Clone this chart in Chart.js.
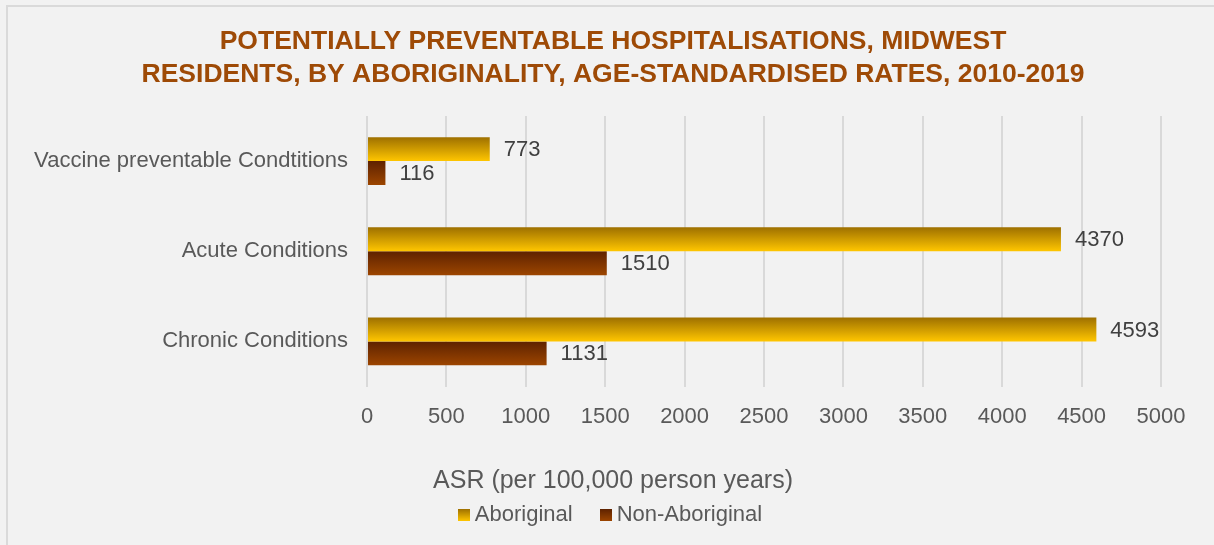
<!DOCTYPE html>
<html>
<head>
<meta charset="utf-8">
<script src="https://cdn.jsdelivr.net/npm/chart.js@4/dist/chart.umd.min.js"></script>
<style>
  html, body { margin: 0; padding: 0; background: #f2f2f2; overflow: hidden; }
  #frame { position: absolute; left: 6px; top: 5px; width: 1220px; height: 560px;
           border-left: 2px solid #dadada; border-top: 2px solid #dadada; }
  #wrap { position: absolute; left: 0; top: 0; width: 1214px; height: 545px; }
</style>
</head>
<body>
<div id="frame"></div>
<div id="wrap"><canvas id="chart"></canvas></div>
<script>
// categories, top to bottom
const categories = ['Vaccine preventable Condtitions', 'Acute Conditions', 'Chronic Conditions'];
const seriesNames = ['Aboriginal', 'Non-Aboriginal'];
const aboriginal = [773, 4370, 4593];
const nonAboriginal = [116, 1510, 1131];
const titleLines = [
  'POTENTIALLY PREVENTABLE HOSPITALISATIONS, MIDWEST',
  'RESIDENTS, BY ABORIGINALITY, AGE-STANDARDISED RATES, 2010-2019'
];
const axisTitle = 'ASR (per 100,000 person years)';

const FONT = '"Liberation Sans", Arial, sans-serif';
// gradient stops: top -> bottom of each bar
const gold = ['#9e7000', '#ffc600'];
const brown = ['#5e2200', '#9c4500'];

/** small swatch used as legend marker */
function swatch(stops) {
  const c = document.createElement('canvas');
  c.width = 12; c.height = 12;
  const g = c.getContext('2d');
  const lg = g.createLinearGradient(0, 0, 0, 12);
  lg.addColorStop(0, stops[0]);
  lg.addColorStop(1, stops[1]);
  g.fillStyle = lg;
  g.fillRect(0, 0, 12, 12);
  return c;
}

/** per-bar vertical gradient */
const barGradients = {
  id: 'barGradients',
  beforeDatasetsDraw(chart) {
    const ctx = chart.ctx;
    chart.data.datasets.forEach((ds, di) => {
      const meta = chart.getDatasetMeta(di);
      meta.data.forEach(el => {
        const { y, height } = el.getProps(['y', 'height'], true);
        const grad = ctx.createLinearGradient(0, y - height / 2, 0, y + height / 2);
        grad.addColorStop(0, ds.gradStops[0]);
        grad.addColorStop(1, ds.gradStops[1]);
        el.options = Object.assign({}, el.options, { backgroundColor: grad });
      });
    });
  }
};

/** value labels at the end of each bar */
const valueLabels = {
  id: 'valueLabels',
  afterDatasetsDraw(chart) {
    const ctx = chart.ctx;
    ctx.save();
    ctx.font = '22px ' + FONT;
    ctx.fillStyle = '#404040';
    ctx.textAlign = 'left';
    ctx.textBaseline = 'middle';
    chart.data.datasets.forEach((ds, di) => {
      const meta = chart.getDatasetMeta(di);
      meta.data.forEach((el, i) => {
        ctx.fillText(String(ds.data[i]), el.x + 14, el.y + 1);
      });
    });
    ctx.restore();
  }
};

new Chart(document.getElementById('chart'), {
  type: 'bar',
  data: {
    labels: categories,
    datasets: [
      { label: seriesNames[0], data: aboriginal, gradStops: gold, backgroundColor: gold[1],
        pointStyle: swatch(gold), categoryPercentage: 0.53, barPercentage: 1 },
      { label: seriesNames[1], data: nonAboriginal, gradStops: brown, backgroundColor: brown[1],
        pointStyle: swatch(brown), categoryPercentage: 0.53, barPercentage: 1 }
    ]
  },
  options: {
    indexAxis: 'y',
    responsive: true,
    maintainAspectRatio: false,
    animation: false,
    layout: { padding: { left: 12, right: 0, top: 0, bottom: 9 } },
    scales: {
      x: {
        min: 0, max: 5000,
        ticks: { stepSize: 500, padding: 17, color: '#595959', callback: v => String(v),
                 font: { size: 22, family: FONT } },
        grid: { color: '#d9d9d9', lineWidth: 2, drawTicks: false },
        border: { display: false },
        afterFit(scale) { scale.height = 82.5; }
      },
      y: {
        ticks: { padding: 11, color: '#595959', font: { size: 22, family: FONT } },
        grid: { display: false },
        border: { display: false },
        afterFit(scale) { scale.width = 355; }
      },
      // empty right-hand axis, only reserves the margin after 5000
      yRight: {
        type: 'linear', position: 'right', display: true,
        ticks: { display: false }, grid: { display: false }, border: { display: false },
        afterFit(scale) { scale.width = 53; }
      }
    },
    plugins: {
      title: {
        display: true, text: titleLines, color: '#9e4a06',
        font: { size: 26.5, weight: 'bold', family: FONT, lineHeight: 1.245 },
        padding: { top: 25, bottom: 25 }
      },
      legend: {
        position: 'bottom',
        title: { display: true, text: axisTitle, color: '#595959', position: 'center',
                 font: { size: 25, family: FONT, lineHeight: 1.2 },
                 padding: { top: 0, bottom: -28 } },
        labels: { usePointStyle: true, boxWidth: 0.01, boxHeight: 12, padding: 33, color: '#595959',
                  font: { size: 22, family: FONT } }
      },
      tooltip: { enabled: false }
    }
  },
  plugins: [barGradients, valueLabels]
});
</script>
</body>
</html>
